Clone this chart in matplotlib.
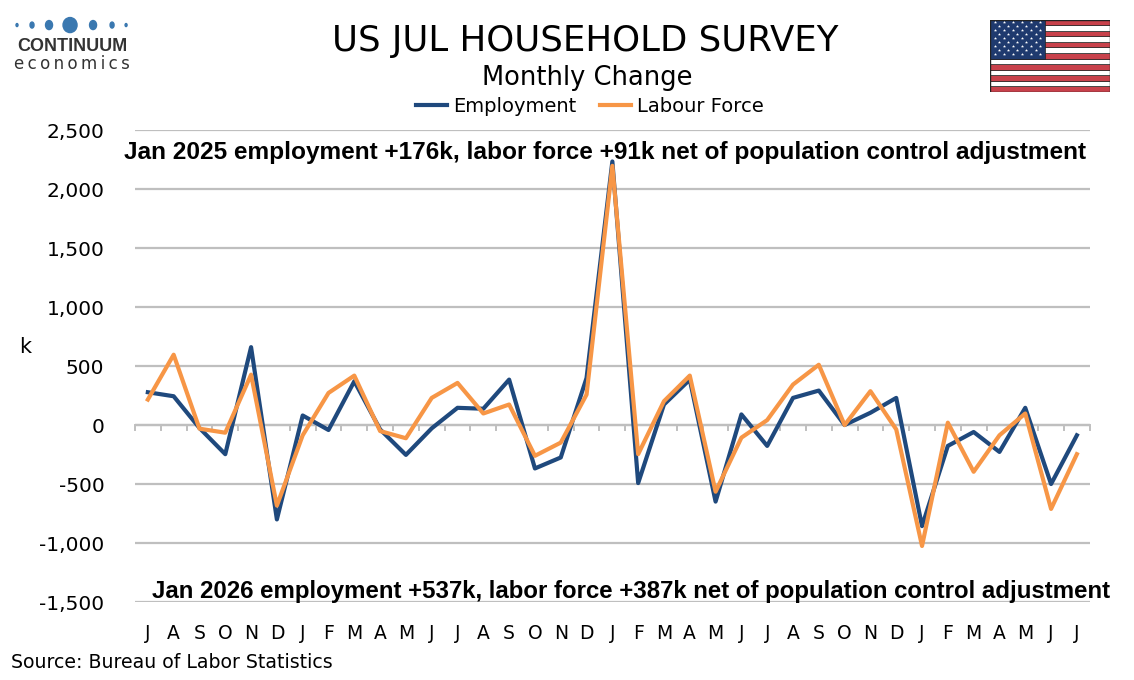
import numpy as np
import matplotlib.pyplot as plt
from matplotlib.patches import Rectangle, Ellipse

# --- Data (k, monthly change), Jul 2023 .. Jul 2026 ---
MONTHS = ["J", "A", "S", "O", "N", "D",
          "J", "F", "M", "A", "M", "J", "J", "A", "S", "O", "N", "D",
          "J", "F", "M", "A", "M", "J", "J", "A", "S", "O", "N", "D",
          "J", "F", "M", "A", "M", "J", "J"]
EMPLOYMENT = [278, 244, -25, -247, 660, -800,
              81, -42, 371, -37, -253, -28, 146, 138, 385, -368, -275, 399,
              2234, -492, 174, 385, -649, 90, -177, 230, 292, 0, 104, 230,
              -857, -177, -59, -228, 146, -500, -87]
LABOUR_FORCE = [216, 596, -31, -65, 427, -683,
                -87, 272, 419, -51, -112, 230, 357, 98, 174, -261, -149, 258,
                2197, -247, 202, 419, -565, -107, 42, 343, 511, 0, 287, -37,
                -1025, 20, -396, -87, 98, -711, -247]
Y_TICKS = [-1500, -1000, -500, 0, 500, 1000, 1500, 2000, 2500]

NOTE_TOP = "Jan 2025 employment +176k, labor force +91k net of population control adjustment"
NOTE_BOTTOM = "Jan 2026 employment +537k, labor force +387k net of population control adjustment"

BLUE = "#1f497d"
ORANGE = "#f79646"
GRID = "#bfbfbf"
LOGO_BLUE = "#3a78b0"

plt.rcParams["font.family"] = ["DejaVu Sans"]

fig = plt.figure(figsize=(11.34, 6.8), dpi=100)
ax = fig.add_axes([0.119, 0.1147, 0.842, 0.694])

x = np.arange(len(MONTHS))
ax.plot(x, EMPLOYMENT, color=BLUE, lw=3.0, label="Employment", zorder=3)
ax.plot(x, LABOUR_FORCE, color=ORANGE, lw=3.0, label="Labour Force", zorder=4)

ax.set_xlim(-0.5, len(MONTHS) - 0.5)
ax.set_ylim(-1500, 2500)
ax.set_yticks(Y_TICKS)
ax.set_yticklabels([f"{v:,}" for v in Y_TICKS], fontsize=14.5)
ax.yaxis.grid(True, color=GRID, lw=1.6)
ax.set_axisbelow(True)
ax.tick_params(axis="y", length=0, pad=22)

# month labels under the plot, tick marks on the zero line
ax.set_xticks(x)
ax.set_xticklabels(MONTHS, fontsize=13.5)
ax.tick_params(axis="x", length=0, pad=16)
ax.axhline(0, color=GRID, lw=1.6, zorder=1)
for t in np.arange(-0.5, len(MONTHS), 1.0):
    ax.plot([t, t], [0, -45], color=GRID, lw=1.4, zorder=1, clip_on=False)

for s in ax.spines.values():
    s.set_visible(False)

ax.text(-0.115, 0.54, "k", transform=ax.transAxes, ha="center", va="center", fontsize=15)

ax.text(0.492, 0.953, NOTE_TOP, transform=ax.transAxes, ha="center", va="center",
        fontsize=17.6, fontweight="bold", family="Liberation Sans")
ax.text(0.52, 0.023, NOTE_BOTTOM, transform=ax.transAxes, ha="center", va="center",
        fontsize=17.3, fontweight="bold", family="Liberation Sans")

# titles and legend
fig.text(0.516, 0.94, "US JUL HOUSEHOLD SURVEY", ha="center", va="center", fontsize=25.6)
fig.text(0.518, 0.886, "Monthly Change", ha="center", va="center", fontsize=18.5)
fig.legend(loc="center", bbox_to_anchor=(0.52, 0.843), ncol=2, frameon=False,
           fontsize=14, handlelength=1.6, columnspacing=1.2, handletextpad=0.3)

fig.text(0.01, 0.025, "Source: Bureau of Labor Statistics", ha="left", va="center", fontsize=13.6)

# logo
logo = fig.add_axes([0, 0.86, 0.15, 0.14])
logo.set_xlim(0, 170)
logo.set_ylim(95, 0)
logo.axis("off")
for cx, w, h in zip([17, 32, 49, 70, 93, 112, 126],
                    [2, 4, 7, 14, 7, 4, 2], [3, 6, 9, 15, 9, 6, 3]):
    logo.add_patch(Ellipse((cx, 25), w, h, color=LOGO_BLUE))
logo.text(72, 46, "CONTINUUM", ha="center", va="center", fontsize=13,
          fontweight="bold", color="#333333", family="Liberation Sans")
logo.text(72, 64, "\u2009".join("economics"), ha="center", va="center",
          fontsize=12, color="#333333")

# flag
flag = fig.add_axes([0.873, 0.865, 0.106, 0.106])
flag.set_xlim(0, 19)
flag.set_ylim(0, 13)
flag.axis("off")
for i in range(13):
    flag.add_patch(Rectangle((0, i), 19, 1, facecolor="#c8414b" if i % 2 == 0 else "white",
                             edgecolor="#222222", lw=0.5))
flag.add_patch(Rectangle((0, 6), 8.7, 7, facecolor="#1f3a6e", edgecolor="#222222", lw=0.5))
for row in range(9):
    ncols = 6 if row % 2 == 0 else 5
    off = 0.72 if row % 2 == 0 else 1.44
    for c in range(ncols):
        flag.plot(off + c * 1.44, 12.5 - row * 0.7, marker="*", ms=2.4,
                  color="white", mec="none")
flag.add_patch(Rectangle((0, 0), 19, 13, fill=False, edgecolor="#222222", lw=1))

fig.savefig("out.png", dpi=100)
